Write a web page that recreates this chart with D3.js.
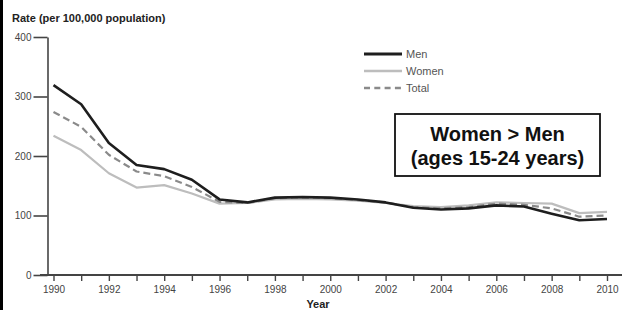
<!DOCTYPE html>
<html><head><meta charset="utf-8">
<script src="https://cdn.jsdelivr.net/npm/d3@7"></script>
<style>
body{margin:0;background:#fff;}
svg{display:block;font-family:"Liberation Sans",Arial,sans-serif;}
</style></head>
<body>
<svg id="c" width="627" height="310"></svg>
<script>
const years = [1990,1991,1992,1993,1994,1995,1996,1997,1998,1999,2000,2001,2002,2003,2004,2005,2006,2007,2008,2009,2010];
const men   = [319,287,222,185,178,160,127,122,130,131,130,127,122,113,110,112,117,115,103,92,94];
const women = [234,210,171,147,151,137,120,121,127,128,127,125,121,116,114,117,122,121,120,104,106];
const total = [274,249,202,174,166,148,123,121,129,130,129,126,122,114,112,114,120,118,112,98,100];
const yTicks = [0,100,200,300,400];
const xLabelYears = [1990,1992,1994,1996,1998,2000,2002,2004,2006,2008,2010];
const seriesNames = ["Men","Women","Total"];
const noteLines = ["Women > Men","(ages 15-24 years)"];

const svg = d3.select("#c");
svg.append("rect").attr("x",0).attr("y",0).attr("width",627).attr("height",310).attr("fill","#fff");
svg.append("rect").attr("x",0).attr("y",0).attr("width",3).attr("height",310).attr("fill","#000");

const x = d3.scaleLinear().domain([1990,2010]).range([53.5,607]);
const y = d3.scaleLinear().domain([0,400]).range([275,37]);

// y axis
const gy = svg.append("g").attr("transform","translate(47.5,0)")
  .call(d3.axisLeft(y).tickValues(yTicks).tickSize(14).tickSizeOuter(0).tickPadding(2));
gy.select(".domain").attr("stroke","#444").attr("stroke-width",1.6);
gy.selectAll(".tick line").attr("stroke","#444").attr("stroke-width",1.6);
gy.selectAll(".tick text").attr("font-size",10).attr("fill","#444").attr("font-family","'Liberation Sans',Arial,sans-serif");

// x axis
const gx = svg.append("g").attr("transform","translate(0,275)")
  .call(d3.axisBottom(x).tickValues(years).tickSize(6).tickSizeOuter(0).tickPadding(5)
    .tickFormat(d => xLabelYears.includes(d) ? String(d) : ""));
gx.select(".domain").remove();
gx.selectAll(".tick line").attr("stroke","#444").attr("stroke-width",1.4);
gx.selectAll(".tick text").attr("font-size",10).attr("fill","#444").attr("font-family","'Liberation Sans',Arial,sans-serif");
svg.append("line").attr("x1",40).attr("x2",622).attr("y1",275).attr("y2",275)
  .attr("stroke","#444").attr("stroke-width",2);

// titles
svg.append("text").attr("x",12).attr("y",22).attr("font-size",11).attr("font-weight","bold")
  .attr("fill","#222").text("Rate (per 100,000 population)");
svg.append("text").attr("x",318).attr("y",308).attr("text-anchor","middle").attr("font-size",11)
  .attr("font-weight","bold").attr("fill","#222").text("Year");

// lines
const styles = {
  Men:{stroke:"#1e1e1e",width:2.6,dash:null},
  Women:{stroke:"#bdbdbd",width:2.2,dash:null},
  Total:{stroke:"#8a8a8a",width:2.2,dash:"7,4"}
};
const data = {Men:men,Women:women,Total:total};
const line = d3.line().x((d,i)=>x(years[i])).y(d=>y(d));
["Women","Total","Men"].forEach(k=>{
  svg.append("path").datum(data[k]).attr("d",line).attr("fill","none")
    .attr("stroke",styles[k].stroke).attr("stroke-width",styles[k].width)
    .attr("stroke-dasharray",styles[k].dash).attr("stroke-linejoin","round");
});

// legend
const lg = svg.append("g");
seriesNames.forEach((k,i)=>{
  const yy = 54 + i*17;
  lg.append("line").attr("x1",364).attr("x2",402).attr("y1",yy).attr("y2",yy)
    .attr("stroke",styles[k].stroke).attr("stroke-width",k==="Men"?3:2.4)
    .attr("stroke-dasharray",k==="Total"?"6,4.3":null);
  lg.append("text").attr("x",406).attr("y",yy+3.8).attr("font-size",11).attr("fill","#555").text(k);
});

// annotation box
svg.append("rect").attr("x",395).attr("y",114).attr("width",205).attr("height",62)
  .attr("fill","#fff").attr("stroke","#111").attr("stroke-width",1.8);
noteLines.forEach((t,i)=>{
  svg.append("text").attr("x",497.5).attr("y",141+i*24).attr("text-anchor","middle")
    .attr("font-size",20).attr("font-weight","bold").attr("fill","#111")
    .attr("font-family","'Liberation Sans',Arial,sans-serif").text(t);
});
</script>
</body></html>
